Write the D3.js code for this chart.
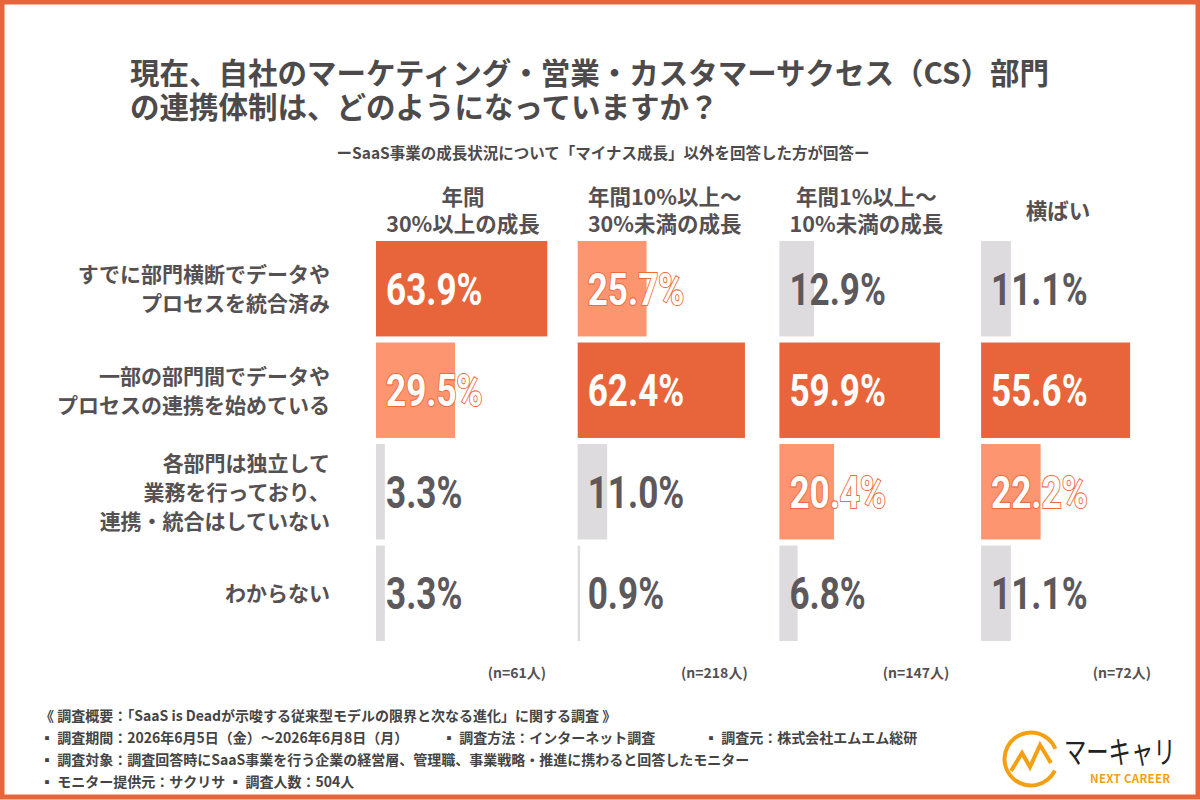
<!DOCTYPE html>
<meta charset="utf-8">
<script src="https://d3js.org/d3.v7.min.js"></script>
<style>
  body { margin: 0; background: #fff; }
  text { font-family: "Noto Sans CJK JP", "Noto Sans", sans-serif; }
</style>
<div id="chart"></div>
<script>
// data
var groups = ["年間\n30%以上の成長", "年間10%以上～\n30%未満の成長", "年間1%以上～\n10%未満の成長", "横ばい"];
var counts = ["(n=61人)", "(n=218人)", "(n=147人)", "(n=72人)"];
var answers = ["すでに部門横断でデータや\nプロセスを統合済み",
               "一部の部門間でデータや\nプロセスの連携を始めている",
               "各部門は独立して\n業務を行っており、\n連携・統合はしていない",
               "わからない"];
// values[group][answer]
var values = [
  [63.9, 29.5, 3.3, 3.3],
  [25.7, 62.4, 11.0, 0.9],
  [12.9, 59.9, 20.4, 6.8],
  [11.1, 55.6, 22.2, 11.1]
];
var notes = [
  "《 調査概要：「SaaS is Deadが示唆する従来型モデルの限界と次なる進化」に関する調査 》",
  "▪ 調査期間：2026年6月5日（金）～2026年6月8日（月）",
  "▪ 調査対象：調査回答時にSaaS事業を行う企業の経営層、管理職、事業戦略・推進に携わると回答したモニター",
  "▪ モニター提供元：サクリサ ▪ 調査人数：504人"
];

var W = 1200, H = 800;
var dark = "#e8643a", light = "#fd9570", grey = "#dedbde";
var textGrey = "#555052";

var svg = d3.select("#chart").append("svg")
  .attr("width", W).attr("height", H);

svg.append("rect").attr("width", W).attr("height", H).attr("fill", "#fff");

// frame
svg.append("rect").attr("x", 2).attr("y", 2).attr("width", W - 4).attr("height", H - 5)
  .attr("fill", "none").attr("stroke", "#e8643a").attr("stroke-width", 5);

// title
var title = ["現在、自社のマーケティング・営業・カスタマーサクセス（CS）部門", "の連携体制は、どのようになっていますか？"];
svg.selectAll(".title").data(title).enter().append("text")
  .attr("x", 130).attr("y", (d, i) => 84 + i * 34)
  .attr("font-size", 29.5).attr("font-weight", 700).attr("fill", "#4d4a4b")
  .text(d => d);

svg.append("text").attr("x", 603).attr("y", 159).attr("text-anchor", "middle")
  .attr("font-size", 15.5).attr("font-weight", 700).attr("fill", "#4d4a4b")
  .text("ーSaaS事業の成長状況について「マイナス成長」以外を回答した方が回答ー");

// scales
var x = d3.scaleLinear().domain([0, 100]).range([0, 268]);
var col = d3.scaleBand().domain(d3.range(groups.length)).range([376, 376 + 4 * 201.7]);
var row = d3.scaleBand().domain(d3.range(answers.length)).range([241, 641]).paddingInner(0.06);

// column headers
groups.forEach(function (g, gi) {
  var lines = g.split("\n");
  var cx = col(gi) + 87 - (gi === 3 ? 10 : 0);
  var t = svg.append("text").attr("text-anchor", "middle")
    .attr("font-size", 21.5).attr("font-weight", 700).attr("fill", textGrey);
  var y0 = lines.length === 1 ? 219 : 205;
  lines.forEach(function (l, li) {
    t.append("tspan").attr("x", cx).attr("y", y0 + li * 27).text(l);
  });
});

// row labels
answers.forEach(function (a, ai) {
  var lines = a.split("\n");
  var cy = row(ai) + row.bandwidth() / 2;
  var lh = 29;
  var t = svg.append("text").attr("text-anchor", "end")
    .attr("font-size", 21).attr("font-weight", 700).attr("fill", textGrey);
  lines.forEach(function (l, li) {
    t.append("tspan").attr("x", 330)
      .attr("y", cy + (li - (lines.length - 1) / 2) * lh + 8).text(l);
  });
});

// bars
values.forEach(function (vals, gi) {
  var sorted = vals.slice().sort((a, b) => b - a);
  var g = svg.append("g");
  var cells = g.selectAll("g").data(vals).enter().append("g");
  function rank(v) { return v === sorted[0] ? 0 : v === sorted[1] ? 1 : 2; }
  cells.append("rect")
    .attr("x", col(gi))
    .attr("y", (d, i) => row(i))
    .attr("width", d => Math.max(x(d), 2))
    .attr("height", row.bandwidth())
    .attr("fill", d => [dark, light, grey][rank(d)]);
  cells.append("text")
    .attr("transform", (d, i) => "translate(" + (col(gi) + 10) + "," + (row(i) + row.bandwidth() / 2 + 16) + ") scale(0.78,1)")
    .style("font-family", "Roboto, 'Noto Sans', sans-serif")
    .attr("font-size", 45).attr("font-weight", 700)
    .attr("fill", d => rank(d) < 2 ? "#fff" : "#5d585b")
    .attr("stroke", d => rank(d) === 1 ? "#f06a3e" : "none")
    .attr("stroke-width", 2.2)
    .attr("paint-order", "stroke")
    .text(d => d.toFixed(1) + "%");
  svg.append("text").attr("x", col(gi) + 170).attr("y", 678).attr("text-anchor", "end")
    .attr("font-size", 14).attr("font-weight", 700).attr("fill", textGrey)
    .text(counts[gi]);
});

// footnotes
var ny = [721, 743, 765, 787];
notes.forEach(function (n, i) {
  svg.append("text").attr("x", 40).attr("y", ny[i])
    .attr("font-size", 14).attr("font-weight", 700).attr("fill", "#444")
    .text(n);
});
svg.append("text").attr("x", 442).attr("y", ny[1]).attr("font-size", 14).attr("font-weight", 700)
  .attr("fill", "#444").text("▪ 調査方法：インターネット調査");
svg.append("text").attr("x", 704).attr("y", ny[1]).attr("font-size", 14).attr("font-weight", 700)
  .attr("fill", "#444").text("▪ 調査元：株式会社エムエム総研");

// logo
var logo = svg.append("g").attr("transform", "translate(1031,759)");
logo.append("path")
  .attr("d", d3.arc()({ innerRadius: 24.5, outerRadius: 28.5, startAngle: 0.45, endAngle: 2 * Math.PI - 0.4 }))
  .attr("transform", "rotate(90)")
  .attr("fill", "#f5a010");
logo.append("path")
  .attr("d", "M-20,12 L-9,-6 L-1,8 L9,-14 L20,4")
  .attr("fill", "none").attr("stroke", "#f5a010").attr("stroke-width", 4)
  .attr("stroke-linejoin", "miter");
svg.append("text").attr("transform", "translate(1064,763) scale(0.72,1)")
  .attr("font-size", 31).attr("font-weight", 400).attr("fill", "#222")
  .text("マーキャリ");
svg.append("text").attr("x", 1090).attr("y", 783)
  .attr("font-size", 11.5).attr("font-weight", 700).attr("fill", "#f5a010")
  .attr("letter-spacing", 0.3)
  .text("NEXT CAREER");
</script>
